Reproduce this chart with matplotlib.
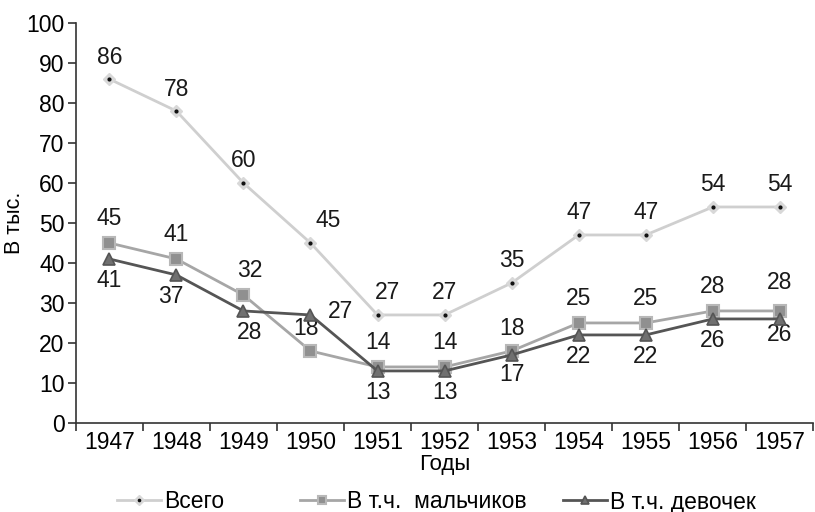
import numpy as np
import matplotlib.pyplot as plt
from matplotlib.legend_handler import HandlerTuple

plt.rcParams['font.family'] = ['Liberation Sans', 'DejaVu Sans']

years = ['1947', '1948', '1949', '1950', '1951', '1952', '1953', '1954', '1955', '1956', '1957']
total = [86, 78, 60, 45, 27, 27, 35, 47, 47, 54, 54]
boys = [45, 41, 32, 18, 14, 14, 18, 25, 25, 28, 28]
girls = [41, 37, 28, 27, 13, 13, 17, 22, 22, 26, 26]
names = ['Всего', 'В т.ч.  мальчиков', 'В т.ч. девочек']

# label offsets in pixels (dx, dy) for each point
total_off = [(0, 22), (0, 22), (0, 22), (18, 22), (10, 22), (0, 22), (0, 22), (0, 22), (0, 22), (0, 22), (0, 22)]
boys_off = [(0, 24), (0, 24), (6, 24), (-4, 22), (0, 24), (0, 24), (0, 22), (0, 24), (0, 24), (0, 24), (0, 28)]
girls_off = [(0, -22), (-6, -22), (6, -22), (30, 3), (0, -22), (0, -22), (0, -20), (0, -22), (0, -22), (0, -22), (0, -16)]

x = np.arange(len(years))

fig = plt.figure(figsize=(8.15, 5.12), dpi=100)
ax = fig.add_axes([0.093, 0.174, 0.905, 0.781])

l_total, = ax.plot(x, total, color='#cfcfcf', lw=2, marker='D', ms=6,
                   mfc='#d8d8d8', mec='#d8d8d8', zorder=2)
d_total, = ax.plot(x, total, ls='none', marker='o', ms=2, color='#111111', zorder=3)
l_boys, = ax.plot(x, boys, color='#a6a6a6', lw=2, marker='s', ms=8,
                  mfc='#909090', mec='#b8b8b8', mew=1.5, zorder=4)
l_girls, = ax.plot(x, girls, color='#555555', lw=2, marker='^', ms=8,
                   mfc='#707070', mec='#555555', mew=1.2, zorder=5)

for vals, offs in ((total, total_off), (boys, boys_off), (girls, girls_off)):
    for xi, v, (dx, dy) in zip(x, vals, offs):
        ax.annotate(str(v), (xi, v), xytext=(dx, dy), textcoords='offset pixels',
                    ha='center', va='center', fontsize=16.5, color='#1a1a1a')

ax.set_xlim(-0.5, len(years) - 0.5)
ax.set_ylim(0, 100)
ax.set_yticks(range(0, 101, 10))
ax.set_xticks(np.arange(len(years) + 1) - 0.5)
ax.set_xticklabels([])
ax.set_xticks(x, minor=True)
ax.set_xticklabels(years, minor=True)
ax.tick_params(axis='x', which='minor', length=0, pad=6, labelsize=16.5)
ax.tick_params(axis='x', which='major', length=6, width=1.2, color='#333333')
ax.tick_params(axis='y', length=6, width=1.2, color='#333333', labelsize=16.5, pad=2)

for side in ('top', 'right'):
    ax.spines[side].set_visible(False)
for side in ('left', 'bottom'):
    ax.spines[side].set_linewidth(1.2)
    ax.spines[side].set_color('#333333')

ax.set_ylabel('В тыс.', fontsize=15.5, labelpad=1)
ax.set_xlabel('Годы', fontsize=16, labelpad=0)

# one legend per series, placed along the bottom edge
handles = [(l_total, d_total), l_boys, l_girls]
starts = [117, 300, 563]
for h, name, x0 in zip(handles, names, starts):
    fig.legend([h], [name], handler_map={tuple: HandlerTuple(ndivide=1)},
               loc='center left', bbox_to_anchor=(x0 / 815, 1 - 502 / 512),
               frameon=False, fontsize=16.5, borderpad=0, borderaxespad=0,
               handlelength=1.9, handletextpad=0.17, markerscale=0.8)

fig.savefig('out.png', dpi=100)
